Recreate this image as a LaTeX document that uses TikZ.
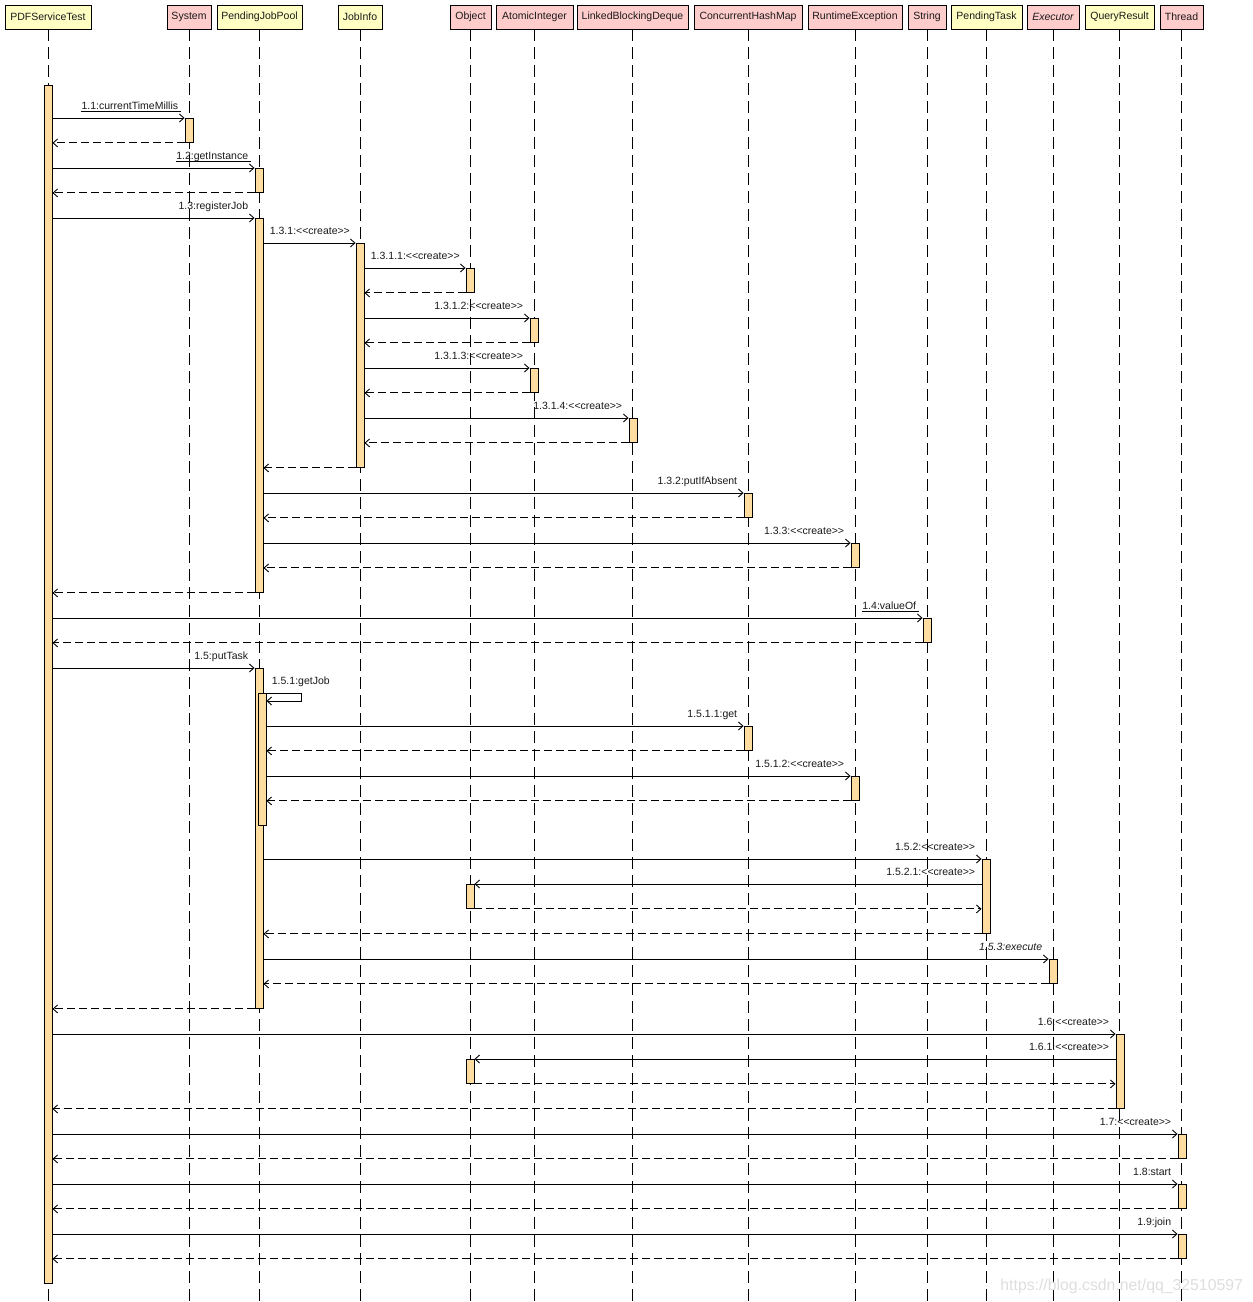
\documentclass[tikz,border=0pt]{standalone}
\usepackage{fontspec}
\newfontfamily\lab{Liberation Sans}
\usetikzlibrary{arrows.meta}
\definecolor{hdy}{HTML}{FFFFC4}
\definecolor{hdp}{HTML}{FFCCCC}
\definecolor{actc}{HTML}{FFDDA0}
\definecolor{ink}{HTML}{1A1A1A}
\begin{document}
\begin{tikzpicture}[x=1pt,y=-1pt, line width=0.9pt,
  hdr/.style={draw=black, minimum height=24pt, inner sep=0pt, font=\lab\fontsize{10.5}{12}\selectfont, text=ink},
  hy/.style={hdr, fill=hdy}, hp/.style={hdr, fill=hdp},
  life/.style={draw=black, dash pattern=on 12pt off 6pt},
  act/.style={draw=black, fill=actc, minimum width=8pt, inner sep=0pt, anchor=north},
  call/.style={draw=black, -{Straight Barb[length=4.5pt,width=8pt]}},
  ret/.style={call, dash pattern=on 8pt off 4pt},
  lbl/.style={inner sep=0pt, font=\lab\fontsize{10.5}{12}\selectfont, text=ink},
  lr/.style={lbl, anchor=base east}, ll/.style={lbl, anchor=base west},
  uline/.style={draw=black, line width=0.8pt},
]
\useasboundingbox (0,0) rectangle (1253,1302);
\fill[white] (0,0) rectangle (1253,1302);

% headers
\node[hy, minimum width=86pt] (h0) at (48,17) {PDFServiceTest};
\node[hp, minimum width=44pt] (h1) at (189,17) {System};
\node[hy, minimum width=85pt] (h2) at (259.5,17) {PendingJobPool};
\node[hy, minimum width=44pt] (h3) at (360,17) {JobInfo};
\node[hp, minimum width=41pt] (h4) at (470.5,17) {Object};
\node[hp, minimum width=77pt] (h5) at (534.5,17) {AtomicInteger};
\node[hp, minimum width=111pt] (h6) at (632.5,17) {LinkedBlockingDeque};
\node[hp, minimum width=108pt] (h7) at (748,17) {ConcurrentHashMap};
\node[hp, minimum width=94pt] (h8) at (855,17) {RuntimeException};
\node[hp, minimum width=38pt] (h9) at (927,17) {String};
\node[hy, minimum width=71pt] (h10) at (986.5,17) {PendingTask};
\node[hp, minimum width=52pt] (h11) at (1053,17) {\itshape Executor};
\node[hy, minimum width=69pt] (h12) at (1119.5,17) {QueryResult};
\node[hp, minimum width=43pt] (h13) at (1181.5,17) {Thread};

% lifelines
\foreach \h in {h0,h1,h2,h3,h4,h5,h6,h7,h8,h9,h10,h11,h12,h13}
  \draw[life] (\h.south) -- (\h.south |- 0,1302);

% activations
\node[act, minimum height=1198pt] (a0) at (48,85) {};
\node[act, minimum height=24pt] (aSy) at (189,118) {};
\node[act, minimum height=24pt] (aP1) at (259,168) {};
\node[act, minimum height=374pt] (aP2) at (259,218) {};
\node[act, minimum height=224pt] (aJ) at (360,243) {};
\node[act, minimum height=24pt] (aO1) at (470,268) {};
\node[act, minimum height=24pt] (aA1) at (534,318) {};
\node[act, minimum height=24pt] (aA2) at (534,368) {};
\node[act, minimum height=24pt] (aL) at (633,418) {};
\node[act, minimum height=24pt] (aC1) at (748,493) {};
\node[act, minimum height=24pt] (aR1) at (855,543) {};
\node[act, minimum height=24pt] (aS) at (927,618) {};
\node[act, minimum height=340pt] (aP3) at (259,668) {};
\node[act, minimum height=132pt] (aP4) at (262,693) {};
\node[act, minimum height=24pt] (aC2) at (748,726) {};
\node[act, minimum height=24pt] (aR2) at (855,776) {};
\node[act, minimum height=74pt] (aT) at (986,859) {};
\node[act, minimum height=24pt] (aO2) at (470,884) {};
\node[act, minimum height=24pt] (aE) at (1053,959) {};
\node[act, minimum height=74pt] (aQ) at (1120,1034) {};
\node[act, minimum height=24pt] (aO3) at (470,1059) {};
\node[act, minimum height=24pt] (aH1) at (1182,1134) {};
\node[act, minimum height=24pt] (aH2) at (1182,1184) {};
\node[act, minimum height=24pt] (aH3) at (1182,1234) {};

% 1.1
\draw[call] (a0.east |- aSy.north) -- (aSy.north west);
\draw[ret] (aSy.south west) -- (a0.east |- aSy.south);
\node[lr] (t11) at ([xshift=-6pt,yshift=9pt]aSy.north west) {1.1:currentTimeMillis};
\draw[uline] ([yshift=-2.5pt]t11.base west) -- ([yshift=-2.5pt,xshift=2pt]t11.base east);
% 1.2
\draw[call] (a0.east |- aP1.north) -- (aP1.north west);
\draw[ret] (aP1.south west) -- (a0.east |- aP1.south);
\node[lr] (t12) at ([xshift=-6pt,yshift=9pt]aP1.north west) {1.2:getInstance};
\draw[uline] ([yshift=-2.5pt]t12.base west) -- ([yshift=-2.5pt,xshift=2pt]t12.base east);
% 1.3
\draw[call] (a0.east |- aP2.north) -- (aP2.north west);
\node[lr] at ([xshift=-6pt,yshift=9pt]aP2.north west) {1.3:registerJob};
% 1.3.1
\draw[call] (aP2.east |- aJ.north) -- (aJ.north west);
\node[ll] at ([xshift=6pt,yshift=9pt]aP2.east |- aJ.north) {1.3.1:<<create>>};
% 1.3.1.1
\draw[call] (aJ.east |- aO1.north) -- (aO1.north west);
\draw[ret] (aO1.south west) -- (aJ.east |- aO1.south);
\node[ll] at ([xshift=6pt,yshift=9pt]aJ.east |- aO1.north) {1.3.1.1:<<create>>};
% 1.3.1.2
\draw[call] (aJ.east |- aA1.north) -- (aA1.north west);
\draw[ret] (aA1.south west) -- (aJ.east |- aA1.south);
\node[lr] at ([xshift=-6pt,yshift=9pt]aA1.north west) {1.3.1.2:<<create>>};
% 1.3.1.3
\draw[call] (aJ.east |- aA2.north) -- (aA2.north west);
\draw[ret] (aA2.south west) -- (aJ.east |- aA2.south);
\node[lr] at ([xshift=-6pt,yshift=9pt]aA2.north west) {1.3.1.3:<<create>>};
% 1.3.1.4
\draw[call] (aJ.east |- aL.north) -- (aL.north west);
\draw[ret] (aL.south west) -- (aJ.east |- aL.south);
\node[lr] at ([xshift=-6pt,yshift=9pt]aL.north west) {1.3.1.4:<<create>>};
% return JobInfo
\draw[ret] (aJ.south west) -- (aP2.east |- aJ.south);
% 1.3.2
\draw[call] (aP2.east |- aC1.north) -- (aC1.north west);
\draw[ret] (aC1.south west) -- (aP2.east |- aC1.south);
\node[lr] at ([xshift=-6pt,yshift=9pt]aC1.north west) {1.3.2:putIfAbsent};
% 1.3.3
\draw[call] (aP2.east |- aR1.north) -- (aR1.north west);
\draw[ret] (aR1.south west) -- (aP2.east |- aR1.south);
\node[lr] at ([xshift=-6pt,yshift=9pt]aR1.north west) {1.3.3:<<create>>};
% return 1.3
\draw[ret] (aP2.south west) -- (a0.east |- aP2.south);
% 1.4
\draw[call] (a0.east |- aS.north) -- (aS.north west);
\draw[ret] (aS.south west) -- (a0.east |- aS.south);
\node[lr] (t14) at ([xshift=-6pt,yshift=9pt]aS.north west) {1.4:valueOf};
\draw[uline] ([yshift=-2.5pt]t14.base west) -- ([yshift=-2.5pt,xshift=2pt]t14.base east);
% 1.5
\draw[call] (a0.east |- aP3.north) -- (aP3.north west);
\node[lr] at ([xshift=-6pt,yshift=9pt]aP3.north west) {1.5:putTask};
% 1.5.1 self
\draw[call] (aP4.north east) -- ++(35,0) -- ++(0,8) -- (aP4.east |- 0,701);
\node[ll] at ([xshift=5pt,yshift=9pt]aP4.north east) {1.5.1:getJob};
% 1.5.1.1
\draw[call] (aP4.east |- aC2.north) -- (aC2.north west);
\draw[ret] (aC2.south west) -- (aP4.east |- aC2.south);
\node[lr] at ([xshift=-6pt,yshift=9pt]aC2.north west) {1.5.1.1:get};
% 1.5.1.2
\draw[call] (aP4.east |- aR2.north) -- (aR2.north west);
\draw[ret] (aR2.south west) -- (aP4.east |- aR2.south);
\node[lr] at ([xshift=-6pt,yshift=9pt]aR2.north west) {1.5.1.2:<<create>>};
% 1.5.2
\draw[call] (aP3.east |- aT.north) -- (aT.north west);
\node[lr] at ([xshift=-6pt,yshift=9pt]aT.north west) {1.5.2:<<create>>};
% 1.5.2.1
\draw[call] (aT.west |- aO2.north) -- (aO2.north east);
\draw[ret] (aO2.south east) -- (aT.west |- aO2.south);
\node[lr] at ([xshift=-6pt,yshift=9pt]aT.west |- aO2.north) {1.5.2.1:<<create>>};
% return PendingTask
\draw[ret] (aT.south west) -- (aP3.east |- aT.south);
% 1.5.3
\draw[call] (aP3.east |- aE.north) -- (aE.north west);
\draw[ret] (aE.south west) -- (aP3.east |- aE.south);
\node[lr] at ([xshift=-6pt,yshift=9pt]aE.north west) {\itshape 1.5.3:execute};
% return 1.5
\draw[ret] (aP3.south west) -- (a0.east |- aP3.south);
% 1.6
\draw[call] (a0.east |- aQ.north) -- (aQ.north west);
\node[lr] at ([xshift=-6pt,yshift=9pt]aQ.north west) {1.6:<<create>>};
% 1.6.1
\draw[call] (aQ.west |- aO3.north) -- (aO3.north east);
\draw[ret] (aO3.south east) -- (aQ.west |- aO3.south);
\node[lr] at ([xshift=-6pt,yshift=9pt]aQ.west |- aO3.north) {1.6.1:<<create>>};
% return 1.6
\draw[ret] (aQ.south west) -- (a0.east |- aQ.south);
% 1.7
\draw[call] (a0.east |- aH1.north) -- (aH1.north west);
\draw[ret] (aH1.south west) -- (a0.east |- aH1.south);
\node[lr] at ([xshift=-6pt,yshift=9pt]aH1.north west) {1.7:<<create>>};
% 1.8
\draw[call] (a0.east |- aH2.north) -- (aH2.north west);
\draw[ret] (aH2.south west) -- (a0.east |- aH2.south);
\node[lr] at ([xshift=-6pt,yshift=9pt]aH2.north west) {1.8:start};
% 1.9
\draw[call] (a0.east |- aH3.north) -- (aH3.north west);
\draw[ret] (aH3.south west) -- (a0.east |- aH3.south);
\node[lr] at ([xshift=-6pt,yshift=9pt]aH3.north west) {1.9:join};

% watermark
\node[anchor=base west, inner sep=0pt, text=black!13, font=\lab\fontsize{15.8}{18}\selectfont] (wm) at (1000,1290) {https://blog.csdn.net/qq\_32510597};
\end{tikzpicture}
\end{document}
